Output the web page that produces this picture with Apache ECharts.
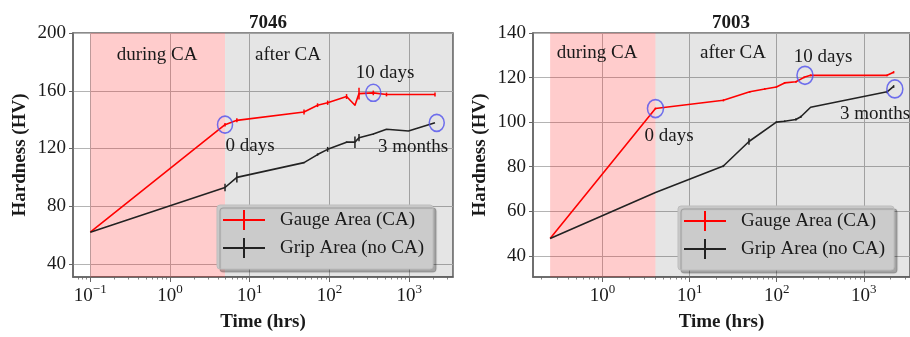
<!DOCTYPE html>
<html><head><meta charset="utf-8">
<script src="https://cdn.jsdelivr.net/npm/echarts@6/dist/echarts.min.js"></script>
<style>html,body{margin:0;padding:0;background:#fff}#c{width:910px;height:337px}</style>
</head><body><div id="c"></div>
<script>
// ---------- data ----------
const titles = ['7046', '7003'];
const seriesNames = ['Gauge Area (CA)', 'Grip Area (no CA)'];

const gaugeTimes7046 = [0.1, 4.9, 6.9, 48, 71, 95, 164, 209, 235, 355, 520, 2110];
const gaugeHV7046    = [62, 136.5, 139.5, 145.3, 150, 151.7, 156, 150, 158, 158.5, 157.4, 157.4];
const gaugeErr7046   = [0, 1.2, 1.4, 1.7, 1.3, 1.5, 1.7, 0.3, 4, 1.6, 1.3, 1.4];
const gripTimes7046  = [0.1, 4.9, 6.9, 48, 71, 95, 164, 209, 235, 355, 520, 980, 2110];
const gripHV7046     = [62, 93, 100, 110.2, 115.8, 119.4, 124.4, 124.4, 127.5, 130, 133.3, 132.1, 137.8];
const gripErr7046    = [0, 2.6, 3.6, 0.5, 0.8, 1.7, 0.5, 4, 2.5, 0.4, 0, 0, 0];

const gaugeTimes7003 = [0.25, 4.05, 24.4, 49, 73, 99, 123, 166, 206, 245, 1850, 2200];
const gaugeHV7003    = [47.8, 106.1, 109.8, 113.6, 114.9, 115.8, 117.6, 118.1, 120.1, 121, 121, 122.4];
const gaugeErr7003   = [0, 0.4, 0.5, 0.4, 0.4, 0.4, 0.4, 0.4, 0.4, 0.4, 0.4, 0.5];
const gripTimes7003  = [0.25, 4.05, 24.4, 48, 99, 123, 166, 189, 245, 1850, 2200];
const gripHV7003     = [47.8, 68.4, 80.3, 91.3, 100, 100.4, 101.2, 102.4, 106.7, 113.6, 116];
const gripErr7003    = [0, 0, 0.5, 1.5, 0.4, 0.4, 0.5, 0.5, 0, 0.6, 0.6];

const circles7046 = [[4.9, 136.5], [355, 158.6], [2220, 137.8]];
const circles7003 = [[4.05, 106.1], [211, 121], [2270, 114.9]];

const duringCA7046 = [0.1, 4.9];
const duringCA7003 = [0.25, 4.05];

const xRange7046 = [0.0607, 3550];
const xRange7003 = [0.159, 3390];
const yRange7046 = [31, 200];
const yRange7003 = [30.5, 140];

const xTicks7046 = [0.1, 1, 10, 100, 1000];
const xTicks7003 = [1, 10, 100, 1000];
const yTicks7046 = [40, 80, 120, 160, 200];
const yTicks7003 = [40, 60, 80, 100, 120, 140];

// ---------- helpers ----------
const FONT = 'Liberation Serif';
const TXT = '#1a1a1a';
const AXC = '#666';
const RED = '#ff0000';
const BLK = '#222222';
const BLUE = '#5050ee';

function minorTicks(lo, hi) {
  const out = [];
  for (let e = -2; e <= 4; e++) for (let k = 2; k <= 9; k++) {
    const v = k * Math.pow(10, e);
    if (v > lo && v < hi) out.push(v);
  }
  return out;
}
function supFmt(v) {
  const e = Math.round(Math.log10(v));
  return '{b|10}{s|' + (e < 0 ? '\u2212' + (-e) : e) + '}';
}
const zip = (a, b) => a.map((t, i) => [t, b[i]]);
const zip3 = (a, b, c) => a.map((t, i) => [t, b[i], c[i]]);

function xAxes(grid, range, ticks) {
  return [{
    type: 'log', logBase: 10, gridIndex: grid, position: 'bottom', min: range[0], max: range[1],
    axisLine: { show: true, onZero: false, lineStyle: { color: AXC, width: 1.5 } },
    axisTick: { show: true, customValues: ticks, length: 5, lineStyle: { color: AXC, width: 1 } },
    axisLabel: {
      customValues: ticks, formatter: supFmt, margin: 6, color: TXT,
      rich: {
        b: { fontFamily: FONT, fontSize: 19, lineHeight: 26, color: TXT },
        s: { fontFamily: FONT, fontSize: 13, lineHeight: 13, verticalAlign: 'top', color: TXT }
      }
    },
    splitLine: { show: true, lineStyle: { color: '#b4b4b4', width: 1 } },
    name: 'Time (hrs)', nameLocation: 'middle', nameGap: 36,
    nameTextStyle: { fontFamily: FONT, fontSize: 19, fontWeight: 'bold', color: TXT }
  }, {
    type: 'log', logBase: 10, gridIndex: grid, position: 'bottom', min: range[0], max: range[1],
    axisLine: { show: false }, axisLabel: { show: false }, splitLine: { show: false },
    axisTick: { show: true, customValues: minorTicks(range[0], range[1]), length: 2.5, lineStyle: { color: AXC, width: 0.8 } }
  }];
}
function yAxis(grid, range, ticks) {
  return {
    type: 'value', gridIndex: grid, min: range[0], max: range[1],
    axisLine: { show: true, lineStyle: { color: AXC, width: 1.5 } },
    axisTick: { show: true, customValues: ticks, length: 4, lineStyle: { color: AXC, width: 1 } },
    axisLabel: { customValues: ticks, fontFamily: FONT, fontSize: 19, color: TXT, margin: 7 },
    splitLine: { show: true, lineStyle: { color: '#b4b4b4', width: 1 } },
    name: 'Hardness (HV)', nameLocation: 'middle', nameGap: 43, nameRotate: 90,
    nameTextStyle: { fontFamily: FONT, fontSize: 19, fontWeight: 'bold', color: TXT }
  };
}
function errSeries(name, xi, yi, data, color) {
  return {
    type: 'custom', name: name, xAxisIndex: xi, yAxisIndex: yi, z: 4, silent: true,
    data: data, encode: { x: 0, y: 1 },
    renderItem: function (params, api) {
      const x = api.value(0), y = api.value(1), e = api.value(2);
      if (!e) return null;
      const p1 = api.coord([x, y - e]), p2 = api.coord([x, y + e]);
      return { type: 'line', shape: { x1: p1[0], y1: p1[1], x2: p2[0], y2: p2[1] },
        style: { stroke: color, lineWidth: 1.5 } };
    }
  };
}
function lineSeries(name, xi, yi, data, color) {
  return { type: 'line', name: name, xAxisIndex: xi, yAxisIndex: yi, data: data, color: color,
    showSymbol: false, symbol: 'none', z: 5, silent: true,
    lineStyle: { color: color, width: 1.6 } };
}
function bgSeries(xi, yi, during, xmax) {
  return { type: 'line', name: 'bg' + xi, xAxisIndex: xi, yAxisIndex: yi, data: [], z: 1, silent: true,
    markArea: { silent: true, data: [
      [{ xAxis: during[0], itemStyle: { color: 'rgba(255,0,0,0.2)' } }, { xAxis: during[1] }],
      [{ xAxis: during[1], itemStyle: { color: 'rgba(0,0,0,0.1)' } }, { xAxis: xmax }]
    ] } };
}
function circleSeries(xi, yi, data, size) {
  return { type: 'scatter', name: 'circ' + xi, xAxisIndex: xi, yAxisIndex: yi, data: data, z: 6, silent: true,
    symbol: 'circle', symbolSize: size,
    itemStyle: { color: 'rgba(0,0,0,0)', borderColor: BLUE, borderWidth: 1.6 } };
}
const crossIcon = 'path://M0,9L42,9L42,11L0,11Z M20,0L22,0L22,20L20,20Z';
function legend(left, top) {
  return {
    data: seriesNames, left: left, top: top, orient: 'vertical',
    icon: crossIcon, itemWidth: 42, itemHeight: 20, itemGap: 8,
    padding: [5, 9, 11, 6],
    backgroundColor: '#cbcbcb', borderColor: '#bdbdbd', borderWidth: 1, borderRadius: 3,
    shadowColor: 'rgba(0,0,0,0.28)', shadowOffsetX: 3, shadowOffsetY: 3, shadowBlur: 1,
    textStyle: { fontFamily: FONT, fontSize: 19, color: TXT, lineHeight: 20, padding: [0, 0, 0, 10] },
    selectedMode: false
  };
}
function txt(x, y, s, align) {
  return { type: 'text', x: x, y: y, z: 50, silent: true,
    style: { text: s, fontFamily: FONT, fontSize: 19, fill: TXT, align: align || 'center', verticalAlign: 'middle' } };
}

const chart = echarts.init(document.getElementById('c'), null, { renderer: 'canvas' });
chart.setOption({
  animation: false,
  backgroundColor: '#fff',
  title: [
    { text: titles[0], left: 263, top: 9, textAlign: 'center', textStyle: { fontFamily: FONT, fontSize: 19, fontWeight: 'bold', color: TXT } },
    { text: titles[1], left: 726, top: 9, textAlign: 'center', textStyle: { fontFamily: FONT, fontSize: 19, fontWeight: 'bold', color: TXT } }
  ],
  grid: [
    { left: 73, top: 33, width: 380, height: 245, show: true, backgroundColor: '#fff', borderColor: AXC, borderWidth: 1.5 },
    { left: 533, top: 33, width: 385, height: 245, show: true, backgroundColor: '#fff', borderColor: AXC, borderWidth: 1.5 }
  ],
  xAxis: [].concat(xAxes(0, xRange7046, xTicks7046), xAxes(1, xRange7003, xTicks7003)),
  yAxis: [yAxis(0, yRange7046, yTicks7046), yAxis(1, yRange7003, yTicks7003)],
  legend: [legend(217, 205), legend(678, 206)],
  series: [
    lineSeries(seriesNames[0], 0, 0, zip(gaugeTimes7046, gaugeHV7046), RED),
    lineSeries(seriesNames[1], 0, 0, zip(gripTimes7046, gripHV7046), BLK),
    lineSeries(seriesNames[0], 2, 1, zip(gaugeTimes7003, gaugeHV7003), RED),
    lineSeries(seriesNames[1], 2, 1, zip(gripTimes7003, gripHV7003), BLK),
    errSeries(seriesNames[0], 0, 0, zip3(gaugeTimes7046, gaugeHV7046, gaugeErr7046), RED),
    errSeries(seriesNames[1], 0, 0, zip3(gripTimes7046, gripHV7046, gripErr7046), BLK),
    errSeries(seriesNames[0], 2, 1, zip3(gaugeTimes7003, gaugeHV7003, gaugeErr7003), RED),
    errSeries(seriesNames[1], 2, 1, zip3(gripTimes7003, gripHV7003, gripErr7003), BLK),
    bgSeries(0, 0, duringCA7046, xRange7046[1]),
    bgSeries(2, 1, duringCA7003, xRange7003[1]),
    circleSeries(0, 0, circles7046, [15, 17]),
    circleSeries(2, 1, circles7003, [16, 18])
  ],
  graphic: [
    txt(157, 55, 'during CA'), txt(288, 55, 'after CA'), txt(385, 73, '10 days'),
    txt(250, 146, '0 days'), txt(413, 147, '3 months'),
    txt(597, 53, 'during CA'), txt(733, 53, 'after CA'), txt(823, 57, '10 days'),
    txt(669, 136, '0 days'), txt(840, 114, '3 months', 'left')
  ]
});
</script></body></html>
